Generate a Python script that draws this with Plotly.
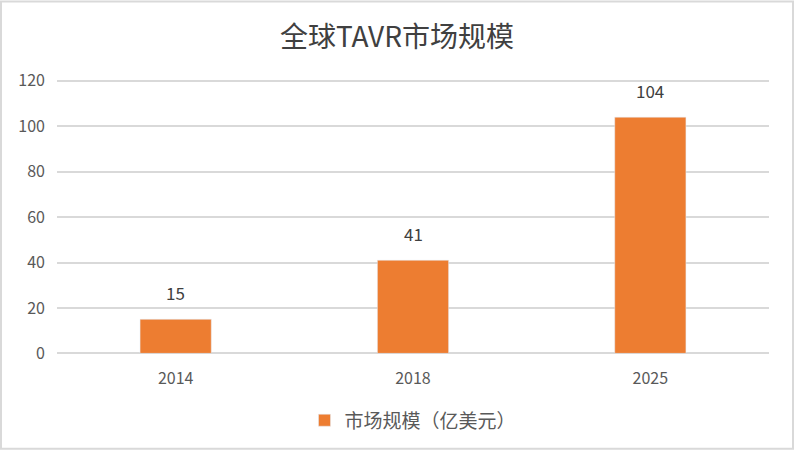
import plotly.graph_objects as go

years = ["2014", "2018", "2025"]
marketSize = [15, 41, 104]
seriesName = "市场规模（亿美元）"
titleText = "全球TAVR市场规模"
yTicks = [0, 20, 40, 60, 80, 100, 120]

W, H = 794, 452
mL, mR, mT, mB = 57, 25, 79, 97
pw, ph = W - mL - mR, H - mT - mB

fig = go.Figure(go.Bar(
    x=years,
    y=marketSize,
    name=seriesName,
    marker_color="#ED7D31",
    cliponaxis=False,
    showlegend=True,
))

# value labels above bars; category index used because the year strings look numeric
for i, v in enumerate(marketSize):
    fig.add_annotation(x=i, y=v, text=str(v), showarrow=False,
                       yanchor="bottom", yshift=12,
                       font=dict(size=17, color="#404040"))

fig.update_layout(
    width=W, height=H,
    margin=dict(l=mL, r=mR, t=mT, b=mB),
    paper_bgcolor="white",
    plot_bgcolor="white",
    font=dict(family="Noto Sans CJK SC", color="#595959"),
    title=dict(text=titleText, x=0.5, xanchor="center", y=0.918, yanchor="middle",
               font=dict(size=28, color="#404040")),
    bargap=0.7,
    xaxis=dict(type="category", showgrid=False, showline=False, ticks="",
               ticklabelstandoff=14, tickfont=dict(size=16, color="#595959")),
    # top of range a bit past 120 so the 120 gridline is drawn
    yaxis=dict(range=[0, 120.8], tickvals=yTicks, showgrid=True, gridcolor="#D9D9D9",
               gridwidth=2, zeroline=True, zerolinecolor="#D9D9D9", zerolinewidth=2,
               showline=False, ticks="", ticklen=0, ticklabelstandoff=11,
               tickfont=dict(size=16, color="#595959")),
    # container-anchored so the legend does not push the margins
    legend=dict(orientation="h", yref="container", x=0.5, xanchor="center",
                y=0.07, yanchor="middle", font=dict(size=19, color="#595959")),
    # thin grey frame round the whole chart
    shapes=[dict(
        type="rect", xref="paper", yref="paper",
        x0=-(mL - 1) / pw, x1=1 + (mR - 1) / pw,
        y0=-(mB - 1) / ph, y1=1 + (mT - 1) / ph,
        line=dict(color="#D9D9D9", width=2),
        layer="below",
    )],
)

fig.write_html("out.html", config={"displayModeBar": False},
               post_script="document.body.style.margin='0';")
